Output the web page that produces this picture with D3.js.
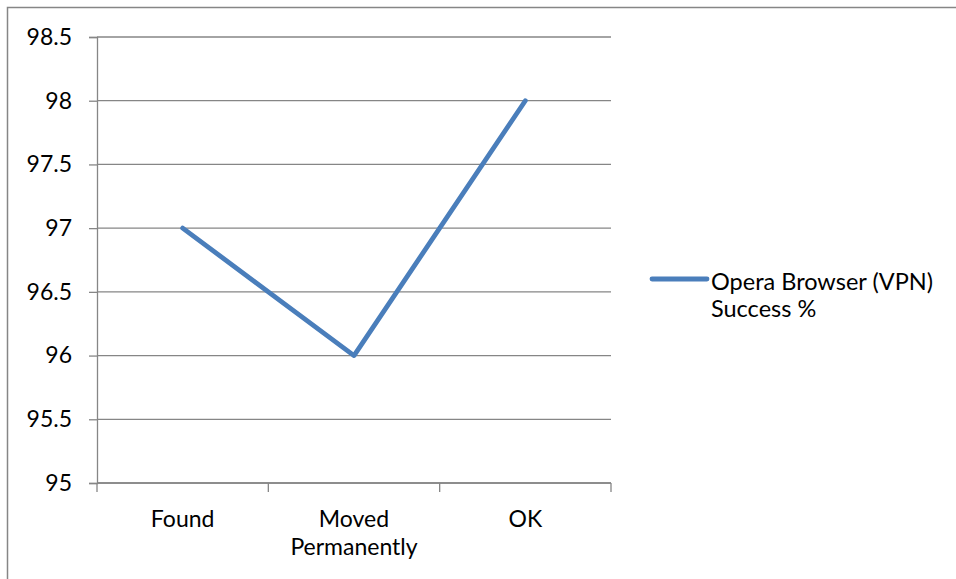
<!DOCTYPE html>
<html>
<head>
<meta charset="utf-8">
<script src="https://cdn.jsdelivr.net/npm/d3@7"></script>
<style>
  body { margin: 0; background: #fff; }
  svg { display: block; }
  text { font-family: Lato, "Open Sans", sans-serif; fill: #000; }
</style>
</head>
<body>
<div id="chart"></div>
<script>
var categories = ["Found", "Moved Permanently", "OK"]
var successValues = [97, 96, 98]
var yTicks = [95, 95.5, 96, 96.5, 97, 97.5, 98, 98.5]
var seriesName = ["Opera Browser (VPN)", "Success %"]

var W = 956, H = 579
var margin = { top: 37, left: 97, right: 345, bottom: 96 }
var width = W - margin.left - margin.right,
    height = H - margin.top - margin.bottom
var fontSize = "23px"

var svg = d3.select("#chart").append("svg")
    .attr("width", W).attr("height", H)

// outer frame (only top and left edges are visible)
svg.append("path")
    .attr("d", "M7.5," + H + "V7.5H" + W)
    .attr("fill", "none").attr("stroke", "#868686").attr("stroke-width", 1.5)

var g = svg.append("g")
    .attr("transform", "translate(" + margin.left + "," + margin.top + ")")

var x = d3.scaleBand().domain(categories).range([0, width])
var y = d3.scaleLinear().domain([95, 98.5]).range([height, 0])

// gridlines
g.selectAll(".grid").data(yTicks).enter().append("line")
    .attr("x1", 0).attr("x2", width)
    .attr("y1", d => y(d)).attr("y2", d => y(d))
    .attr("stroke", "#868686").attr("stroke-width", 1.3)

// y axis
var yAxis = g.append("g")
    .call(d3.axisLeft(y).tickValues(yTicks).tickSize(8).tickPadding(17).tickFormat(d3.format("")))
yAxis.select(".domain").attr("stroke", "#868686").attr("stroke-width", 1.3)
yAxis.selectAll(".tick line").attr("stroke", "#868686").attr("stroke-width", 1.3)
yAxis.selectAll(".tick text").style("font-size", fontSize).style("font-family", "Lato, sans-serif")

// x axis: ticks at band boundaries
var xa = g.append("g").attr("transform", "translate(0," + height + ")")
xa.append("line").attr("x1", 0).attr("x2", width)
    .attr("stroke", "#868686").attr("stroke-width", 1.3)
var bounds = categories.map(c => x(c)).concat([width])
xa.selectAll(".xt").data(bounds).enter().append("line")
    .attr("x1", d => d).attr("x2", d => d).attr("y1", 0).attr("y2", 9)
    .attr("stroke", "#868686").attr("stroke-width", 1.3)

var labels = xa.selectAll(".xl").data(categories).enter().append("text")
    .attr("x", d => x(d) + x.bandwidth() / 2)
    .attr("y", 44)
    .attr("text-anchor", "middle")
    .style("font-size", fontSize)
labels.each(function (d) {
    var words = d.split(" ")
    var t = d3.select(this)
    words.forEach((w, i) => {
        t.append("tspan").attr("x", x(d) + x.bandwidth() / 2).attr("dy", i == 0 ? 0 : 28).text(w)
    })
})

// line
var line = d3.line()
    .x((d, i) => x(categories[i]) + x.bandwidth() / 2)
    .y(d => y(d))
g.append("path").datum(successValues)
    .attr("d", line)
    .attr("fill", "none")
    .attr("stroke", "#4a7ebb")
    .attr("stroke-width", 4.8)
    .attr("stroke-linejoin", "round")
    .attr("stroke-linecap", "round")

// legend
var lg = svg.append("g").attr("transform", "translate(652,279)")
lg.append("line").attr("x1", 0).attr("x2", 55)
    .attr("stroke", "#4a7ebb").attr("stroke-width", 4.8).attr("stroke-linecap", "round")
lg.selectAll("text").data(seriesName).enter().append("text")
    .attr("x", 59).attr("y", (d, i) => 11 + i * 27)
    .style("font-size", "23.5px")
    .text(d => d)
</script>
</body>
</html>
